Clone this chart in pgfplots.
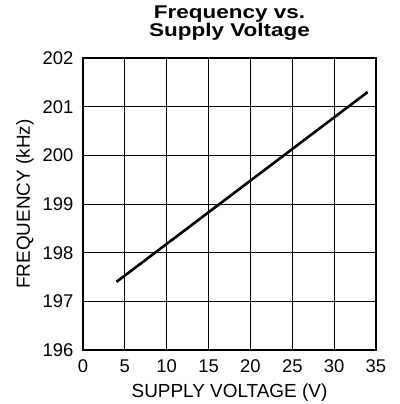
\documentclass[border=0pt]{standalone}
\usepackage{pgfplots}
\pgfplotsset{compat=1.18}
\usepackage{fontspec}
\setmainfont{Liberation Sans}
\begin{document}
\begin{tikzpicture}
\path[use as bounding box] (-83bp,-54bp) rectangle (317bp,350bp);
\begin{axis}[
  at={(0,0)}, anchor=south west,
  scale only axis, width=293bp, height=292bp,
  xmin=0, xmax=35, ymin=196, ymax=202,
  xtick={0,5,...,35}, ytick={196,...,202},
  grid=major,
  major grid style={line width=1.0pt, black},
  axis line style={line width=1.3pt},
  tick style={draw=none},
  /pgf/number format/assume math mode=true,
  /pgf/number format/1000 sep={},
  ticklabel style={font=\fontsize{18.5}{20}\selectfont},
  xticklabel style={yshift=-6bp},
  yticklabel style={xshift=-6bp},
  xlabel={SUPPLY VOLTAGE (V)},
  ylabel={FREQUENCY (kHz)},
  label style={font=\fontsize{19}{20}\selectfont},
  xlabel style={yshift=-4bp},
  ylabel style={yshift=2bp},
  title={\scalebox{1.22}[1]{Frequency vs.}\\\scalebox{1.22}[1]{Supply Voltage}},
  title style={font=\bfseries\fontsize{18.5}{16.5}\selectfont, align=center, yshift=8bp},
]
\addplot[black, line width=2.6pt] coordinates {(4,197.4) (34,201.3)};
\end{axis}
\end{tikzpicture}
\end{document}
